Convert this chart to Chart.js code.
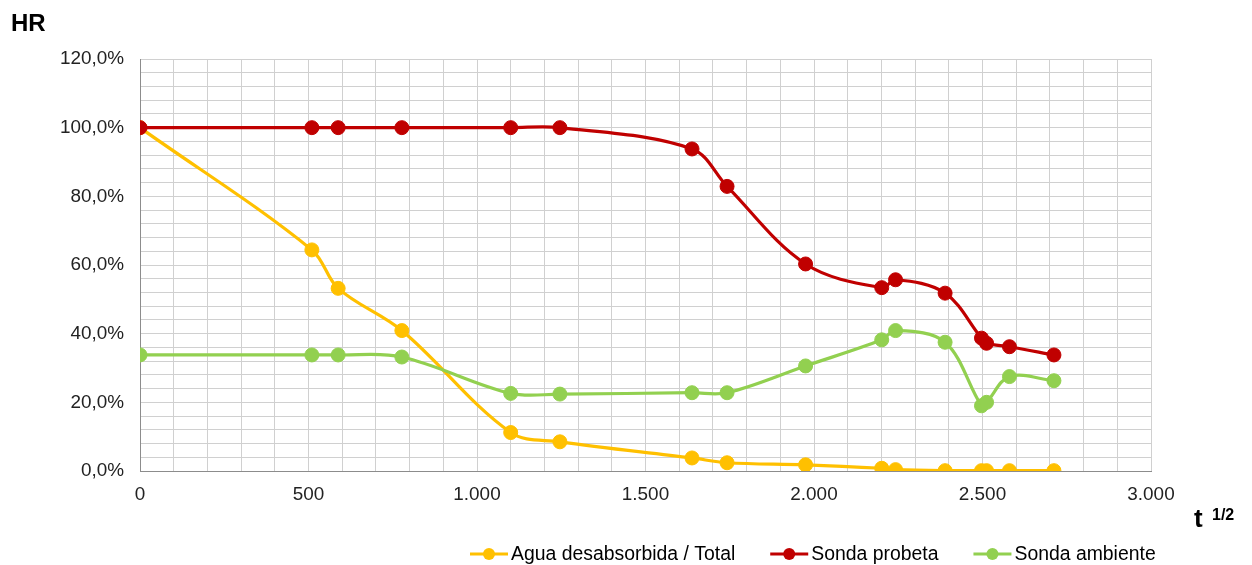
<!DOCTYPE html>
<html>
<head>
<meta charset="utf-8">
<script src="https://cdn.jsdelivr.net/npm/chart.js@4.4.1/dist/chart.umd.min.js"></script>
<style>
html,body{margin:0;padding:0;background:#fff;}
#wrap{width:1252px;height:565px;}
</style>
</head>
<body>
<div id="wrap"><canvas id="c" width="1252" height="565"></canvas></div>
<script>
// ---- data ----
const xValues = [0, 510, 588, 777, 1100, 1246, 1638, 1742, 1975, 2201, 2242, 2389, 2497, 2512, 2580, 2712];
const aguaValues = [100, 64.4, 53.2, 40.9, 11.2, 8.5, 3.8, 2.4, 1.8, 0.8, 0.4, 0.1, 0.1, 0.1, 0.1, 0.1];
const probetaValues = [100, 100, 100, 100, 100, 100, 93.8, 82.9, 60.3, 53.4, 55.7, 51.8, 38.7, 37.2, 36.2, 33.8];
const ambienteValues = [33.8, 33.8, 33.8, 33.2, 22.6, 22.4, 22.8, 22.8, 30.6, 38.2, 40.9, 37.5, 19.0, 20.0, 27.5, 26.3];
const seriesNames = ['Agua desabsorbida / Total', 'Sonda probeta', 'Sonda ambiente'];
const seriesColors = ['#FFC000', '#C00000', '#92D050'];
const yAxisTitle = 'HR';
const xAxisTitleBase = 't';
const xAxisTitleSup = '1/2';

const FONT = '"Liberation Sans", Arial, sans-serif';

function pts(ys) { return xValues.map((x, i) => ({ x: x, y: ys[i] })); }
function fmtThousands(v) { return String(v).replace(/\B(?=(\d{3})+(?!\d))/g, '.'); }

const seriesData = [aguaValues, probetaValues, ambienteValues];
const orders = [3, 2, 1];
const datasets = seriesNames.map((name, i) => ({
  label: name,
  data: pts(seriesData[i]),
  borderColor: seriesColors[i],
  backgroundColor: seriesColors[i],
  pointBackgroundColor: seriesColors[i],
  pointBorderColor: seriesColors[i],
  pointBorderWidth: 1,
  pointRadius: 7,
  borderWidth: 3.2,
  tension: 0.35,
  fill: false,
  order: orders[i]
}));

const extrasPlugin = {
  id: 'extras',
  afterDraw(chart) {
    const ctx = chart.ctx;
    ctx.save();
    // Y title
    ctx.fillStyle = '#000';
    ctx.textBaseline = 'alphabetic';
    ctx.textAlign = 'left';
    ctx.font = 'bold 24px ' + FONT;
    ctx.fillText(yAxisTitle, 11, 31);
    // X title
    ctx.font = 'bold 26px ' + FONT;
    ctx.fillText(xAxisTitleBase, 1194, 527);
    ctx.font = 'bold 16px ' + FONT;
    ctx.fillText(xAxisTitleSup, 1212, 520);
    // Legend
    ctx.font = '19.4px ' + FONT;
    ctx.textBaseline = 'middle';
    const ly = 554;
    let x = 470;
    chart.data.datasets.forEach((ds) => {
      ctx.strokeStyle = ds.borderColor;
      ctx.lineWidth = 3;
      ctx.beginPath();
      ctx.moveTo(x, ly);
      ctx.lineTo(x + 38, ly);
      ctx.stroke();
      ctx.fillStyle = ds.borderColor;
      ctx.beginPath();
      ctx.arc(x + 19, ly, 6, 0, Math.PI * 2);
      ctx.fill();
      ctx.fillStyle = '#000';
      ctx.fillText(ds.label, x + 41, ly + 1);
      x += 41 + ctx.measureText(ds.label).width + 35;
    });
    ctx.restore();
  }
};

new Chart(document.getElementById('c'), {
  type: 'line',
  data: { datasets: datasets },
  options: {
    responsive: false,
    devicePixelRatio: 1,
    animation: false,
    layout: { padding: { top: 59, right: 101, left: 0, bottom: 0 } },
    plugins: { legend: { display: false }, tooltip: { enabled: false } },
    scales: {
      x: {
        type: 'linear',
        min: 0, max: 3000,
        afterFit(scale) { scale.height = 94; },
        ticks: {
          stepSize: 100,
          autoSkip: false,
          maxRotation: 0,
          padding: 12,
          color: '#222',
          font: { family: FONT, size: 18.9 },
          callback: (v) => (Math.round(v) % 500 === 0 ? fmtThousands(Math.round(v)) : '')
        },
        grid: { color: '#d0d0d0', lineWidth: 1, drawTicks: false },
        border: { color: '#8c8c8c', width: 1 }
      },
      y: {
        min: 0, max: 120,
        afterFit(scale) { scale.width = 140; },
        ticks: {
          stepSize: 4,
          autoSkip: false,
          padding: 16,
          color: '#222',
          font: { family: FONT, size: 18.9 },
          callback: (v) => (Math.round(v) % 20 === 0 ? Math.round(v).toFixed(1).replace('.', ',') + '%' : '')
        },
        grid: { color: '#d0d0d0', lineWidth: 1, drawTicks: false },
        border: { color: '#8c8c8c', width: 1 }
      }
    }
  },
  plugins: [extrasPlugin]
});
</script>
</body>
</html>
